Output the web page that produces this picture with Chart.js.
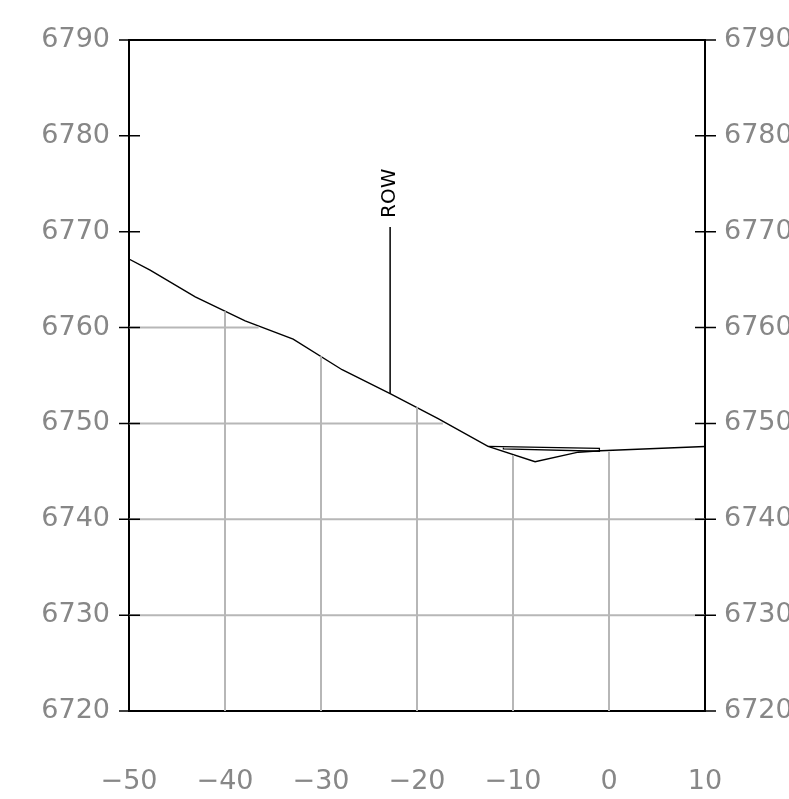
<!DOCTYPE html>
<html>
<head>
<meta charset="utf-8">
<script src="https://cdn.jsdelivr.net/npm/chart.js@4.4.1/dist/chart.umd.min.js"></script>
<style>
  body { margin: 0; background: #fff; }
  canvas { display: block; }
</style>
</head>
<body>
<canvas id="chart" width="789" height="799"></canvas>
<script>
// ground profile (offset, elevation)
const groundX = [-50, -47.8, -43.1, -37.9, -32.9, -27.8, -22.8, -17.8, -12.6, -7.7, -3.2, -0.9, 10];
const groundY = [6767.15, 6766.0, 6763.2, 6760.7, 6758.8, 6755.6, 6753.1, 6750.5, 6747.6, 6746.0, 6747.0, 6747.15, 6747.6];

// thin slab near the centerline
const slabX = [-12.6, -1.0, -1.0, -11.0, -11.0];
const slabY = [6747.6, 6747.4, 6747.1, 6747.35, 6747.55];

// ROW marker
const rowX = -22.8;
const rowBottom = 6753.1;
const rowTop = 6770.5;
const rowLabel = 'ROW';

// grid lines only below the ground
const vGridX = [-40, -30, -20, -10, 0];
const vGridTop = [6761.7, 6757.0, 6751.7, 6746.7, 6747.05];
const hGridY = [6760, 6750, 6740, 6730];
const hGridEnd = [-36.5, -17.3, 10, 10];

const xMin = -50, xMax = 10, yMin = 6720, yMax = 6790;

const gridColor = '#b7b7b7';
const labelColor = '#878787';

const datasets = [];
vGridX.forEach((x, i) => {
    datasets.push({
        data: [{ x: x, y: yMin }, { x: x, y: vGridTop[i] }],
        borderColor: gridColor, borderWidth: 2
    });
});
hGridY.forEach((y, i) => {
    datasets.push({
        data: [{ x: xMin, y: y }, { x: hGridEnd[i], y: y }],
        borderColor: gridColor, borderWidth: 2
    });
});
datasets.push({
    data: slabX.map((x, i) => ({ x: x, y: slabY[i] })),
    borderColor: '#000', borderWidth: 1.3
});
datasets.push({
    data: groundX.map((x, i) => ({ x: x, y: groundY[i] })),
    borderColor: '#000', borderWidth: 1.4
});
datasets.push({
    data: [{ x: rowX, y: rowBottom }, { x: rowX, y: rowTop }],
    borderColor: '#000', borderWidth: 1.5
});
datasets.forEach(d => {
    d.showLine = true;
    d.pointRadius = 0;
    d.tension = 0;
    d.fill = false;
});

const tickFont = { family: 'DejaVu Sans', size: 27 };
const fmt = v => (v < 0 ? '\u2212' + Math.abs(v) : String(v));

// ROW text + tick marks that cross the frame on both sides
const extrasPlugin = {
    id: 'extras',
    afterDatasetsDraw(chart) {
        const { ctx, scales, chartArea } = chart;
        const px = scales.x.getPixelForValue(rowX);
        const py = scales.y.getPixelForValue(rowTop);
        ctx.save();
        ctx.translate(px, py - 9);
        ctx.rotate(-Math.PI / 2);
        ctx.font = '20px "DejaVu Sans"';
        ctx.fillStyle = '#000';
        ctx.textAlign = 'left';
        ctx.textBaseline = 'middle';
        ctx.fillText(rowLabel, 0, 0);
        ctx.restore();

        ctx.save();
        ctx.strokeStyle = '#000';
        ctx.lineWidth = 1.5;
        scales.y.ticks.forEach(t => {
            const y = scales.y.getPixelForValue(t.value);
            ctx.beginPath();
            ctx.moveTo(chartArea.left - 10, y);
            ctx.lineTo(chartArea.left + 11, y);
            ctx.moveTo(chartArea.right - 10, y);
            ctx.lineTo(chartArea.right + 11, y);
            ctx.stroke();
        });
        ctx.restore();
    }
};

const yAxis = (pos, width, pad) => ({
    type: 'linear',
    position: pos,
    min: yMin, max: yMax,
    afterFit: s => { s.width = width; },
    ticks: { stepSize: 10, color: labelColor, font: tickFont, padding: pad, callback: fmt },
    grid: { drawOnChartArea: false, tickLength: 10, color: 'rgba(0,0,0,0)' },
    border: { display: true, color: '#000', width: 2 }
});

new Chart(document.getElementById('chart').getContext('2d'), {
    type: 'scatter',
    data: { datasets: datasets },
    plugins: [extrasPlugin],
    options: {
        responsive: false,
        animation: false,
        layout: { autoPadding: false, padding: { top: 40, left: 0, right: 0, bottom: 0 } },
        plugins: { legend: { display: false }, tooltip: { enabled: false } },
        scales: {
            x: {
                type: 'linear',
                position: 'bottom',
                min: xMin, max: xMax,
                afterFit: s => { s.height = 88; },
                ticks: { stepSize: 10, color: labelColor, font: tickFont, padding: 55, callback: fmt },
                grid: { drawOnChartArea: false, drawTicks: false },
                border: { display: true, color: '#000', width: 2 }
            },
            xTop: {
                type: 'linear',
                position: 'top',
                min: xMin, max: xMax,
                afterFit: s => { s.height = 0; },
                ticks: { display: false },
                grid: { drawOnChartArea: false, drawTicks: false },
                border: { display: true, color: '#000', width: 2 }
            },
            y: yAxis('left', 129, 9),
            y2: yAxis('right', 84, 9)
        }
    }
});
</script>
</body>
</html>
